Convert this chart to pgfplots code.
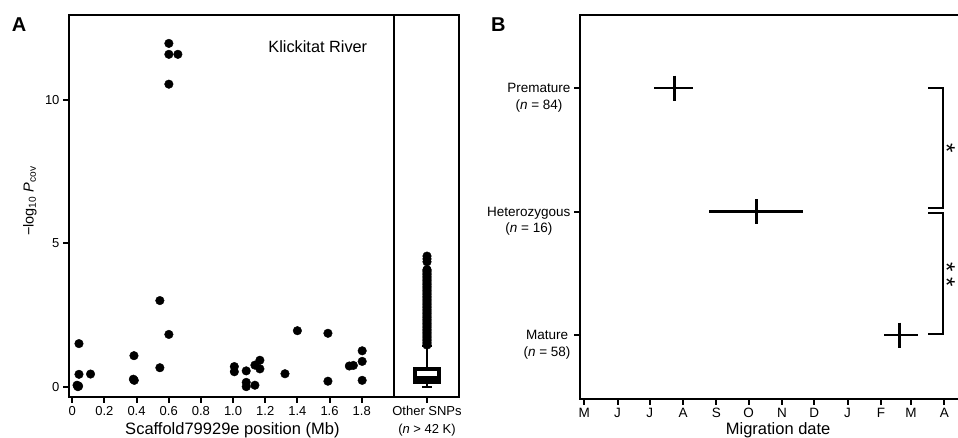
\documentclass[border=0pt]{standalone}
\usepackage{fontspec}
\setmainfont{Liberation Sans}
\usepackage{pgfplots}
\pgfplotsset{compat=1.18}
\usepgfplotslibrary{statistics}

\begin{document}
\begin{tikzpicture}
\pgfplotsset{
  every axis/.append style={
    scale only axis, anchor=south west,
    axis line style={line width=2.2pt},
    clip=false,
    label style={font=\fontsize{16.5}{20}\selectfont},
    /pgf/number format/assume math mode=true,
  }
}
% ---------------- Panel A ----------------
\begin{axis}[
  at={(69pt,41pt)}, width=390pt, height=382pt,
  tick align=outside, major tick length=6pt,
  tick style={black, line width=2pt},
  xtick pos=bottom, ytick pos=left,
  ticklabel style={font=\fontsize{13}{17.5}\selectfont},
  xmin=-0.02, xmax=2.405, ymin=-0.36, ymax=12.95,
  xtick={0,0.2,0.4,0.6,0.8,1.0,1.2,1.4,1.6,1.8,2.206},
  xticklabels={0,0.2,0.4,0.6,0.8,1.0,1.2,1.4,1.6,1.8,{Other SNPs\\(\textit{n} > 42 K)}},
  xticklabel style={align=center},
  ytick={0,5,10},
  xlabel={Scaffold79929e position (Mb)},
  xlabel style={at={(axis description cs:0.419,-0.0864)}, anchor=center},
  ylabel={−log\textsubscript{10} \textit{P}\textsubscript{cov}},
  ylabel style={at={(axis description cs:-0.1,0.513)}, anchor=center, font=\fontsize{14.5}{18}\selectfont},
]
\addplot[only marks, mark=*, mark size=4.3pt, black] coordinates {
(0.042,1.50) (0.042,0.43) (0.030,0.05) (0.040,0.02) (0.035,0.00) (0.114,0.44)
(0.384,1.08) (0.380,0.26) (0.386,0.22)
(0.545,3.00) (0.545,0.66) (0.601,1.82)
(0.601,11.96) (0.601,11.58) (0.657,11.58) (0.601,10.54)
(1.008,0.70) (1.008,0.52) (1.082,0.55) (1.082,0.15) (1.082,0.00) (1.136,0.05)
(1.136,0.75) (1.167,0.92) (1.167,0.62) (1.323,0.45) (1.400,1.95)
(1.590,1.86) (1.590,0.19) (1.723,0.72) (1.748,0.74)
(1.803,1.25) (1.803,0.88) (1.803,0.22)
};
\draw[line width=2.2pt] (axis cs:2.0,-0.36) -- (axis cs:2.0,12.95);
\addplot[black, line width=4pt,
  boxplot/draw direction=y,
  boxplot prepared={draw position=2.206, lower whisker=0.0, lower quartile=0.16,
    median=0.29, upper quartile=0.63, upper whisker=1.40,
    box extend=0.15, whisker extend=0.06},
  boxplot/every whisker/.style={line width=2pt},
  boxplot/every median/.style={line width=4pt}] coordinates {};
\addplot[only marks, mark=*, mark size=4.3pt, black] coordinates {
(2.206,1.45) (2.206,1.50) (2.206,1.55) (2.206,1.60) (2.206,1.65) (2.206,1.70)
(2.206,1.75) (2.206,1.80) (2.206,1.85) (2.206,1.90) (2.206,1.95) (2.206,2.00)
(2.206,2.05) (2.206,2.10) (2.206,2.15) (2.206,2.20) (2.206,2.25) (2.206,2.30)
(2.206,2.35) (2.206,2.40) (2.206,2.45) (2.206,2.50) (2.206,2.55) (2.206,2.60)
(2.206,2.65) (2.206,2.70) (2.206,2.75) (2.206,2.80) (2.206,2.85) (2.206,2.90)
(2.206,2.95) (2.206,3.00) (2.206,3.05) (2.206,3.10) (2.206,3.15) (2.206,3.20)
(2.206,3.25) (2.206,3.30) (2.206,3.35) (2.206,3.40) (2.206,3.45) (2.206,3.50)
(2.206,3.55) (2.206,3.60) (2.206,3.65) (2.206,3.70) (2.206,3.75) (2.206,3.80)
(2.206,3.85) (2.206,3.90) (2.206,3.95) (2.206,4.00) (2.206,4.05) (2.206,4.08)
(2.206,4.35) (2.206,4.45) (2.206,4.55)
};
\node[font=\fontsize{16.3}{20}\selectfont] at (axis description cs:0.638,0.916) {Klickitat River};
\end{axis}
% ---------------- Panel B ----------------
\begin{axis}[
  at={(580pt,39pt)}, width=401.9pt, height=384.3pt,
  tick align=outside, major tick length=6pt,
  tick style={black, line width=2pt},
  xtick pos=bottom, ytick pos=left,
  ticklabel style={font=\fontsize{13.5}{16.5}\selectfont},
  xmin=-4, xmax=370, ymin=0.482, ymax=3.594,
  xtick={0,31,61,92,123,153,184,214,245,276,304,335},
  xticklabels={M,J,J,A,S,O,N,D,J,F,M,A},
  ytick={1,2,3},
  yticklabels={{Mature\\(\textit{n} = 58)},{Heterozygous\\(\textit{n} = 16)},{Premature\\(\textit{n} = 84)}},
  yticklabel style={align=center, anchor=base east, yshift=-21.2pt},
  xlabel={Migration date},
  xlabel style={at={(axis description cs:0.493,-0.0807)}, anchor=center},
]
\addplot[black, only marks, mark=|, mark size=12.5pt, mark options={line width=2.5pt},
  error bars/.cd, x dir=both, x explicit, error mark=none,
  error bar style={line width=2.5pt}] coordinates {
(83.8,3) += (17.6,0) -= (18.7,0)
(160.1,2) += (43.7,0) -= (44.3,0)
(293.1,1) += (17.1,0) -= (13.9,0)
};
\draw[line width=2pt] (axis cs:320.1,3.0) -- (axis cs:334.1,3.0) -- (axis cs:334.1,2.026) -- (axis cs:320.1,2.026);
\draw[line width=2pt] (axis cs:320.1,1.985) -- (axis cs:334.1,1.985) -- (axis cs:334.1,1.006) -- (axis cs:320.1,1.006);
\node[font=\fontsize{24}{24}\selectfont, inner sep=0pt, rotate=-90] at (axis cs:337.2,2.512) {*};
\node[font=\fontsize{24}{24}\selectfont, inner sep=0pt, rotate=-90] at (axis cs:337.2,1.492) {*\hspace{5.7pt}*};
\end{axis}
\node[font=\bfseries\fontsize{20}{20}\selectfont] at (19pt,413pt) {A};
\node[font=\bfseries\fontsize{20}{20}\selectfont] at (498.3pt,413pt) {B};
\pgfresetboundingbox
\useasboundingbox (0,0) rectangle (958pt,438pt);
\end{tikzpicture}
\end{document}
